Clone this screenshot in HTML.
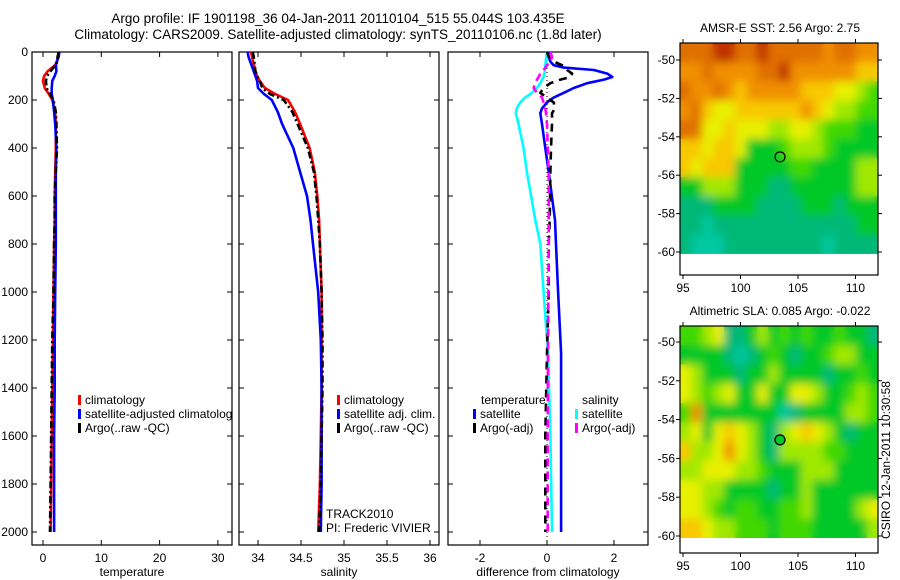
<!DOCTYPE html>
<html><head><meta charset="utf-8"><style>
body{margin:0;background:#fff;}
svg{display:block;font-family:"Liberation Sans",sans-serif;}
</style></head><body>
<svg id="fig" width="900" height="580" viewBox="0 0 900 580">
<defs><filter id="blur" x="-5%" y="-5%" width="110%" height="110%"><feGaussianBlur stdDeviation="4.5"/></filter></defs>
<text x="338" y="23" font-size="13.5" text-anchor="middle">Argo profile: IF 1901198_36 04-Jan-2011 20110104_515 55.044S 103.435E</text>
<text x="338" y="39" font-size="13.5" text-anchor="middle">Climatology: CARS2009. Satellite-adjusted climatology: synTS_20110106.nc (1.8d later)</text>
</svg>
<script>
// ---------- data ----------
const depths = [0,20,50,80,100,120,150,175,200,250,300,400,500,600,700,800,1000,1200,1400,1600,1800,2000];
const tempClim = [2.7,2.6,2.3,0.8,0.2,0.0,0.3,1.0,1.6,2.1,2.2,2.2,2.1,2.0,2.0,1.9,1.8,1.7,1.6,1.5,1.4,1.3];
const tempSat  = [2.8,2.7,2.2,2.3,2.0,1.6,1.5,1.5,1.7,1.9,2.1,2.3,2.2,2.2,2.2,2.2,2.1,2.0,2.0,1.9,1.9,1.9];
const tempArgo = [2.7,2.5,2.3,1.3,0.7,0.5,0.6,1.2,1.8,2.2,2.3,2.4,2.2,2.0,2.0,1.9,1.8,1.6,1.5,1.4,1.3,1.2];
const salClim = [33.92,33.93,33.95,33.97,33.99,34.02,34.08,34.2,34.35,34.43,34.49,34.6,34.66,34.69,34.71,34.72,34.74,34.74,34.74,34.73,34.72,34.70];
const salSat  = [33.88,33.89,33.92,33.95,33.97,33.99,34.0,34.07,34.16,34.23,34.28,34.41,34.49,34.57,34.61,34.64,34.70,34.73,34.74,34.74,34.74,34.73];
const salArgo = [33.94,33.95,33.96,33.97,33.99,34.02,34.05,34.14,34.3,34.4,34.46,34.58,34.65,34.68,34.7,34.72,34.74,34.75,34.75,34.74,34.73,34.71];
const diffDepths = [0,20,40,55,65,75,90,104,115,130,150,170,190,210,235,255,300,400,500,700,800,1000,1255,1600,2000];
const diffTempSat  = [0.03,0.05,0.1,0.2,0.5,1.4,1.8,1.95,1.7,1.2,0.8,0.5,0.2,0.0,-0.15,-0.2,-0.15,-0.05,0.05,0.24,0.27,0.33,0.42,0.42,0.42];
const diffTempArgo = [0,0.05,0.2,0.45,0.55,0.6,0.75,0.7,0.4,0.1,-0.1,-0.2,0.0,0.2,0.24,0.15,0.15,0.12,0.1,0.08,0.05,0.05,0.0,-0.05,-0.05];
const diffSalSat   = [0,-0.02,-0.04,-0.05,-0.06,-0.06,-0.08,-0.1,-0.15,-0.2,-0.3,-0.45,-0.65,-0.8,-0.9,-0.93,-0.85,-0.7,-0.6,-0.35,-0.2,-0.1,0.03,0.1,0.15];
const diffSalArgo  = [0.1,0.15,0.1,0.0,-0.05,-0.1,-0.2,-0.25,-0.3,-0.35,-0.4,-0.3,-0.15,-0.1,-0.05,-0.03,0,0.02,0.05,0.05,0.05,0.04,0.03,0.02,0.02];
const depthTicks = [0,200,400,600,800,1000,1200,1400,1600,1800,2000];
const tempTicks = [0,10,20,30];
const salTicks = [34,34.5,35,35.5,36];
const salTickLabels = ["34","34.5","35","35.5","36"];
const diffTicks = [-2,0,2];
const lonTicks = [95,100,105,110];
const latTicks = [-50,-52,-54,-56,-58,-60];
const argoLon = 103.435, argoLat = -55.044;
const sstGrid = [
[8,8,8,9,9,8,8,9,8,8,8,8,8,7,8,8,7,7],
[7,7,8,7,7,7,7,8,8,9,7,7,7,7,7,7,6,6],
[8,7,7,8,7,6,7,7,7,7,7,6,6,6,5,5,4,3],
[7,8,6,5,5,6,6,6,6,6,6,7,6,5,4,4,3,3],
[8,8,5,5,6,5,5,5,4,4,5,5,4,3,3,3,2,2],
[6,6,5,6,6,5,2,2,2,3,4,4,4,3,2,2,2,2],
[6,5,6,6,6,2,2,2,2,2,3,3,2,2,2,2,4,4],
[2,2,4,4,4,2,2,2,1,1,2,2,2,2,2,2,4,4],
[1,1,1,2,2,2,2,1,1,1,1,2,2,2,1,2,2,2],
[1,1,0,1,1,1,1,1,1,1,1,1,1,1,1,1,2,2],
[1,0,0,0,1,1,1,1,1,1,1,1,1,0,1,1,1,1]];
const slaGrid = [
[3,3,4,5,1,1,2,4,2,3,2,3,2,2,3,2,2,1],
[2,2,2,2,1,0,1,2,3,2,1,2,2,3,4,4,2,2],
[5,4,2,2,2,1,2,2,4,2,2,2,2,1,2,2,3,2],
[5,4,3,4,5,2,2,5,2,2,5,5,4,2,2,3,4,3],
[3,7,2,2,2,2,2,2,2,0,1,2,2,2,2,4,4,3],
[4,5,2,5,6,5,4,2,1,4,5,6,5,4,2,1,2,2],
[6,4,4,5,7,5,4,2,1,4,4,4,4,3,3,2,2,2],
[4,4,5,5,5,4,4,3,2,2,2,4,4,4,2,2,2,2],
[5,5,4,4,2,2,2,2,1,2,2,4,2,2,2,2,2,2],
[5,5,4,3,2,3,3,2,2,3,3,4,2,2,2,2,4,5],
[6,6,5,4,4,3,3,3,2,3,3,3,2,2,2,2,2,4]];
const palette = ["#00c8a0","#00b878","#00c828","#40d800","#a0e800","#e8f000","#f8c800","#f09000","#e07000","#c03000"];

// ---------- helpers ----------
const NS="http://www.w3.org/2000/svg";
const svg=document.getElementById('fig');
function el(tag,attrs,parent,text){const e=document.createElementNS(NS,tag);for(const k in attrs)e.setAttribute(k,attrs[k]);if(text!==undefined)e.textContent=text;(parent||svg).appendChild(e);return e;}
const PT=52, PB=545;
const yD = d => PT + d*0.24;
function panel(name,x0,x1,xfun,ticks,labels,xlabel){
  const g=el('g',{});
  
  
  const r=el('rect',{x:x0,y:PT,width:x1-x0,height:PB-PT,fill:'none',stroke:'#000','stroke-width':1.2},g);
  
  
  ticks.forEach((t,i)=>{const x=xfun(t);
    el('line',{x1:x,x2:x,y1:PB,y2:PB-5,stroke:'#000'},g);
    el('line',{x1:x,x2:x,y1:PT,y2:PT+5,stroke:'#000'},g);
    const tl=el('text',{x:x,y:PB+17,'font-size':12,'text-anchor':'middle'},g,labels[i]);
    
    
  });
  depthTicks.forEach(d=>{el('line',{x1:x0,x2:x0+5,y1:yD(d),y2:yD(d),stroke:'#000'},g);el('line',{x1:x1,x2:x1-5,y1:yD(d),y2:yD(d),stroke:'#000'},g);});
  const xl=el('text',{x:(x0+x1)/2,y:576,'font-size':12,'text-anchor':'middle'},g,xlabel);
  
  
  return g;
}
function line(g,name,ds,vals,xfun,color,dash,w){
  const pts=ds.map((d,i)=>xfun(vals[i]).toFixed(1)+','+yD(d).toFixed(1)).join(' ');
  const p=el('polyline',{points:pts,fill:'none',stroke:color,'stroke-width':w||2.6,'stroke-dasharray':dash||'none','stroke-linejoin':'round'},g);
  
  
}
function legend(g,name,x,y,color,label){
  el('rect',{x:x,y:y-9,width:3,height:10,fill:color},g);
  const t=el('text',{x:x+7,y:y,'font-size':12},g,label);
  
  
}
depthTicks.forEach(d=>{const t=el('text',{x:28,y:yD(d)+4,'font-size':12,'text-anchor':'end'},svg,String(d));
  
  });

// temperature panel
const xT=t=>43+t*5.83;
const g1=panel('temperature-panel',32,232,xT,tempTicks,tempTicks.map(String),'temperature');
const c1=el('clipPath',{id:'cp1'},g1);el('rect',{x:32,y:PT,width:200,height:PB-PT},c1);
line(g1,'temp-climatology-line',depths,tempClim,xT,'#ff0000');
line(g1,'temp-satellite-line',depths,tempSat,xT,'#0000ff');
line(g1,'temp-argo-line',depths,tempArgo,xT,'#000','7,3,2,3',2.6);
const lg1=el('g',{'clip-path':'url(#cp1)'},g1);
legend(lg1,'legend-climatology',78,404,'#ff0000','climatology');
legend(lg1,'legend-satellite-adjusted',78,418,'#0000ff','satellite-adjusted climatology');
legend(lg1,'legend-argo-raw',78,432,'#000','Argo(..raw -QC)');

// salinity panel
const xS=s=>258+(s-34)*86;
const g2=panel('salinity-panel',239,439,xS,salTicks,salTickLabels,'salinity');
line(g2,'sal-climatology-line',depths,salClim,xS,'#ff0000');
line(g2,'sal-satellite-line',depths,salSat,xS,'#0000ff');
line(g2,'sal-argo-line',depths,salArgo,xS,'#000','7,3,2,3');
legend(g2,'legend-sal-climatology',337,404,'#ff0000','climatology');
legend(g2,'legend-sal-satellite',337,418,'#0000ff','satellite adj. clim.');
legend(g2,'legend-sal-argo',337,432,'#000','Argo(..raw -QC)');
const tr=el('text',{x:326,y:518,'font-size':12},g2,'TRACK2010');
const pi=el('text',{x:326,y:532,'font-size':12},g2,'PI: Frederic VIVIER');

// difference panel
const xD=v=>547+v*33.5;
const g3=panel('difference-panel',448,648,xD,diffTicks,diffTicks.map(String),'difference from climatology');
el('line',{x1:xD(0),x2:xD(0),y1:PT,y2:PB,stroke:'#000','stroke-dasharray':'1,3'},g3);
line(g3,'diff-salinity-satellite-line',diffDepths,diffSalSat,xD,'#00ffff');
line(g3,'diff-temperature-satellite-line',diffDepths,diffTempSat,xD,'#0000ff');
line(g3,'diff-temperature-argo-line',diffDepths,diffTempArgo,xD,'#000','8,6',2.6);
line(g3,'diff-salinity-argo-line',diffDepths,diffSalArgo,xD,'#ff00ff','8,5',2.6);
const tt=el('text',{x:481,y:404,'font-size':12},g3,'temperature');
legend(g3,'legend-diff-temp-satellite',473,418,'#0000ff','satellite');
legend(g3,'legend-diff-temp-argo',473,432,'#000','Argo(-adj)');
const st=el('text',{x:582,y:404,'font-size':12},g3,'salinity');
legend(g3,'legend-diff-sal-satellite',575,418,'#00ffff','satellite');
legend(g3,'legend-diff-sal-argo',575,432,'#ff00ff','Argo(-adj)');

// maps
function map(name,title,grid,top,lat50,pxDeg,bottom,filled){
  const g=el('g',{});
  
  
  const X0=680,X1=878;
  const lx=lon=>683+(lon-95)*11.5;
  const ly=lat=>lat50+(-50-lat)*pxDeg;
  const yEnd=ly(-60.1);
  const rows=grid.length, cols=grid[0].length;
  const cw=(X1-X0)/cols, ch=(yEnd-top)/rows;
  const cid=name+'-clip';
  const cp=el('clipPath',{id:cid},g);el('rect',{x:X0,y:top,width:X1-X0,height:yEnd-top},cp);
  const base=el('g',{'clip-path':'url(#'+cid+')'},g);
  const layers=[el('g',{},base),el('g',{filter:'url(#blur)'},base)];
  layers.forEach((L,li)=>grid.forEach((row,r)=>row.forEach((v,c)=>{
    const cell=el('rect',{x:X0+c*cw,y:top+r*ch,width:cw+0.6,height:ch+0.6,fill:palette[v]},L);
    
    
  })));
  el('rect',{x:X0,y:top,width:X1-X0,height:bottom-top,fill:'none',stroke:'#000','stroke-width':1.2},g);
  lonTicks.forEach(l=>{el('line',{x1:lx(l),x2:lx(l),y1:bottom,y2:bottom+4,stroke:'#000'},g);el('line',{x1:lx(l),x2:lx(l),y1:top,y2:top-4,stroke:'#000'},g);
    const t=el('text',{x:lx(l),y:bottom+17,'font-size':12,'text-anchor':'middle'},g,String(l));});
  latTicks.forEach(l=>{el('line',{x1:X0,x2:X0-4,y1:ly(l),y2:ly(l),stroke:'#000'},g);el('line',{x1:X1,x2:X1+4,y1:ly(l),y2:ly(l),stroke:'#000'},g);
    const t=el('text',{x:675,y:ly(l)+4,'font-size':12,'text-anchor':'end'},g,String(l));});
  const tt=el('text',{x:780,y:top-11,'font-size':12,'text-anchor':'middle'},g,title);
  
  const m=el('circle',{cx:lx(argoLon),cy:ly(argoLat),r:5,fill:filled?'#00c828':'none',stroke:'#000','stroke-width':1.2},g);
  
}
map('sst-map','AMSR-E SST: 2.56 Argo: 2.75',sstGrid,43,60,19.2,275,false);
map('sla-map','Altimetric SLA: 0.085 Argo: -0.022',slaGrid,326,342,19.4,553,true);
const cs=el('text',{x:0,y:0,'font-size':12,'text-anchor':'middle',transform:'translate(890,460) rotate(-90)'},svg,'CSIRO 12-Jan-2011 10:30:58');


</script>
</body></html>
